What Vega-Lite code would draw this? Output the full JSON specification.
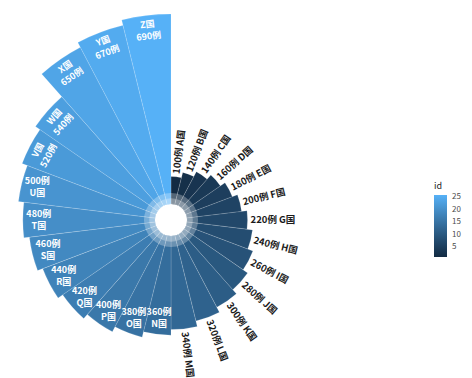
{
  "$schema": "https://vega.github.io/schema/vega-lite/v6.json",
  "autosize": {"type": "none"},
  "width": 342,
  "height": 316,
  "padding": {"left": 0, "top": 62, "right": 130, "bottom": 0},
  "background": "white",
  "config": {"view": {"stroke": null}, "font": "Noto Sans CJK SC"},
  "data": {"values": [
    {"id": 1, "name": "A国", "value": 100, "cases": "100例", "label": "100例 A国"},
    {"id": 2, "name": "B国", "value": 120, "cases": "120例", "label": "120例 B国"},
    {"id": 3, "name": "C国", "value": 140, "cases": "140例", "label": "140例 C国"},
    {"id": 4, "name": "D国", "value": 160, "cases": "160例", "label": "160例 D国"},
    {"id": 5, "name": "E国", "value": 180, "cases": "180例", "label": "180例 E国"},
    {"id": 6, "name": "F国", "value": 200, "cases": "200例", "label": "200例 F国"},
    {"id": 7, "name": "G国", "value": 220, "cases": "220例", "label": "220例 G国"},
    {"id": 8, "name": "H国", "value": 240, "cases": "240例", "label": "240例 H国"},
    {"id": 9, "name": "I国", "value": 260, "cases": "260例", "label": "260例 I国"},
    {"id": 10, "name": "J国", "value": 280, "cases": "280例", "label": "280例 J国"},
    {"id": 11, "name": "K国", "value": 300, "cases": "300例", "label": "300例 K国"},
    {"id": 12, "name": "L国", "value": 320, "cases": "320例", "label": "320例 L国"},
    {"id": 13, "name": "M国", "value": 340, "cases": "340例", "label": "340例 M国"},
    {"id": 14, "name": "N国", "value": 360, "cases": "360例", "label": "360例 N国"},
    {"id": 15, "name": "O国", "value": 380, "cases": "380例", "label": "380例 O国"},
    {"id": 16, "name": "P国", "value": 400, "cases": "400例", "label": "400例 P国"},
    {"id": 17, "name": "Q国", "value": 420, "cases": "420例", "label": "420例 Q国"},
    {"id": 18, "name": "R国", "value": 440, "cases": "440例", "label": "440例 R国"},
    {"id": 19, "name": "S国", "value": 460, "cases": "460例", "label": "460例 S国"},
    {"id": 20, "name": "T国", "value": 480, "cases": "480例", "label": "480例 T国"},
    {"id": 21, "name": "U国", "value": 500, "cases": "500例", "label": "500例 U国"},
    {"id": 22, "name": "V国", "value": 520, "cases": "520例", "label": "520例 V国"},
    {"id": 23, "name": "W国", "value": 540, "cases": "540例", "label": "540例 W国"},
    {"id": 24, "name": "X国", "value": 650, "cases": "650例", "label": "650例 X国"},
    {"id": 25, "name": "Y国", "value": 670, "cases": "670例", "label": "670例 Y国"},
    {"id": 26, "name": "Z国", "value": 690, "cases": "690例", "label": "690例 Z国"}
  ]},
  "transform": [
    {"aggregate": [{"op": "count", "as": "n"}], "groupby": ["id", "name", "value", "cases", "label"]},
    {"stack": "n", "groupby": [], "sort": [{"field": "id", "order": "ascending"}], "as": ["t0", "t1"]}
  ],
  "layer": [
    {
      "mark": {"type": "arc", "stroke": "#ffffff", "strokeWidth": 0.7, "strokeOpacity": 0.22},
      "encoding": {
        "theta": {"field": "t0", "type": "quantitative", "scale": {"domain": [0, 26], "range": [0, 6.283185]}},
        "theta2": {"field": "t1"},
        "radius": {"field": "value", "type": "quantitative", "scale": {"type": "linear", "domain": [0, 690], "range": [16, 206]}},
        "color": {"field": "id", "type": "quantitative",
          "scale": {"domain": [1, 26], "range": ["#132B43", "#56B1F7"], "interpolate": "lab"},
          "legend": {"title": "id", "orient": "none", "legendX": 434, "legendY": 120,
            "values": [5, 10, 15, 20, 25], "gradientLength": 62, "gradientThickness": 13,
            "gradientStrokeWidth": 0, "labelFontSize": 8, "labelColor": "#4d4d4d", "labelOffset": 5,
            "titleFontSize": 9, "titleFontWeight": "normal", "titleColor": "#222222", "titlePadding": 4}}
      }
    },
    {
      "data": {"values": [{}]},
      "mark": {"type": "arc", "theta": 0, "theta2": 6.2832, "fill": "#ffffff", "fillOpacity": 0.28},
      "encoding": {
        "radius": {"datum": 40, "type": "quantitative"},
        "radius2": {"datum": 0}
      }
    },
    {
      "data": {"values": [{}]},
      "mark": {"type": "arc", "theta": 0, "theta2": 6.2832, "fill": "#ffffff", "fillOpacity": 0.3},
      "encoding": {
        "radius": {"datum": 21, "type": "quantitative"},
        "radius2": {"datum": 0}
      }
    },
    {
      "transform": [{"filter": "datum.id <= 13"}],
      "mark": {"type": "text", "radiusOffset": 3, "align": "left", "baseline": "middle", "fill": "#1a1a1a", "fontSize": 9.5, "fontWeight": "bold"},
      "encoding": {
        "theta": {"field": "id", "type": "quantitative", "scale": {"domain": [0.5, 26.5], "range": [0, 6.283185]}},
        "radius": {"field": "value", "type": "quantitative"},
        "text": {"field": "label", "type": "nominal"},
        "angle": {"field": "id", "type": "quantitative", "scale": {"domain": [1, 13], "range": [-83.08, 83.08]}, "legend": null}
      }
    },
    {
      "transform": [{"filter": "datum.id >= 14 && datum.id <= 21"}],
      "mark": {"type": "text", "radiusOffset": -16, "dy": -6, "align": "center", "baseline": "middle", "fill": "#ffffff", "fontSize": 9, "fontWeight": "bold"},
      "encoding": {
        "theta": {"field": "id", "type": "quantitative", "scale": {"domain": [0.5, 26.5], "range": [0, 6.283185]}},
        "radius": {"field": "value", "type": "quantitative"},
        "text": {"field": "cases", "type": "nominal"}
      }
    },
    {
      "transform": [{"filter": "datum.id >= 14 && datum.id <= 21"}],
      "mark": {"type": "text", "radiusOffset": -16, "dy": 6, "align": "center", "baseline": "middle", "fill": "#ffffff", "fontSize": 9, "fontWeight": "bold"},
      "encoding": {
        "theta": {"field": "id", "type": "quantitative", "scale": {"domain": [0.5, 26.5], "range": [0, 6.283185]}},
        "radius": {"field": "value", "type": "quantitative"},
        "text": {"field": "name", "type": "nominal"}
      }
    },
    {
      "transform": [{"filter": "datum.id >= 22"}],
      "mark": {"type": "text", "radiusOffset": -15, "dy": -6, "align": "center", "baseline": "middle", "fill": "#ffffff", "fontSize": 9, "fontWeight": "bold"},
      "encoding": {
        "theta": {"field": "id", "type": "quantitative", "scale": {"domain": [0.5, 26.5], "range": [0, 6.283185]}},
        "radius": {"field": "value", "type": "quantitative"},
        "text": {"field": "name", "type": "nominal"},
        "angle": {"field": "id", "type": "quantitative", "scale": {"domain": [22, 26], "range": [-62.31, -6.92]}, "legend": null}
      }
    },
    {
      "transform": [{"filter": "datum.id >= 22"}],
      "mark": {"type": "text", "radiusOffset": -15, "dy": 6, "align": "center", "baseline": "middle", "fill": "#ffffff", "fontSize": 9, "fontWeight": "bold"},
      "encoding": {
        "theta": {"field": "id", "type": "quantitative", "scale": {"domain": [0.5, 26.5], "range": [0, 6.283185]}},
        "radius": {"field": "value", "type": "quantitative"},
        "text": {"field": "cases", "type": "nominal"},
        "angle": {"field": "id", "type": "quantitative", "scale": {"domain": [22, 26], "range": [-62.31, -6.92]}, "legend": null}
      }
    }
  ],
  "resolve": {"scale": {"angle": "independent", "theta": "independent"}}
}
